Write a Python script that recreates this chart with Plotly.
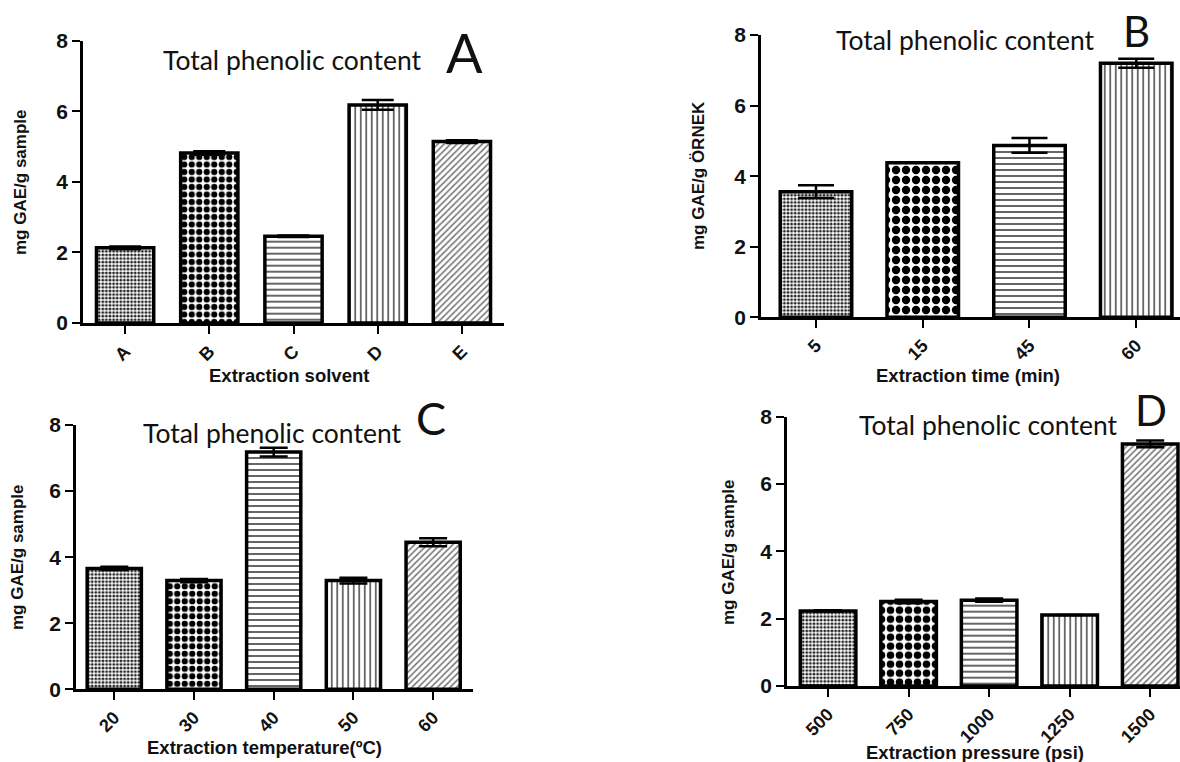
import plotly.graph_objects as go

# ---------------- data ----------------
solvent_cats = ["A", "B", "C", "D", "E"]
solvent_vals = [2.13, 4.82, 2.46, 6.18, 5.14]
solvent_err = [0.04, 0.05, 0.02, 0.14, 0.04]

time_cats = ["5", "15", "45", "60"]
time_vals = [3.56, 4.38, 4.87, 7.20]
time_err = [0.18, 0.0, 0.21, 0.13]

temp_cats = ["20", "30", "40", "50", "60"]
temp_vals = [3.66, 3.29, 7.18, 3.29, 4.45]
temp_err = [0.05, 0.05, 0.13, 0.09, 0.12]

press_cats = ["500", "750", "1000", "1250", "1500"]
press_vals = [2.23, 2.51, 2.55, 2.11, 7.19]
press_err = [0.02, 0.05, 0.05, 0.0, 0.10]

panel_title = "Total phenolic content"
panel_letters = ["A", "B", "C", "D"]
x_titles = ["Extraction solvent", "Extraction time (min)",
            "Extraction temperature(ºC)", "Extraction pressure (psi)"]
y_titles = ["mg GAE/g sample", "mg GAE/g ÖRNEK", "mg GAE/g sample", "mg GAE/g sample"]

# ---------------- styling ----------------
W, H = 1180, 762
TXT = "#111111"
BOLD = dict(family="Liberation Sans, Arial, sans-serif", color=TXT, weight="bold")
TITLEF = dict(family="Lato, Open Sans, sans-serif", color=TXT)

# pattern styles: fine dots, checker, horizontal, vertical, diagonal
pat_shape = {"dots": ".", "check": ".", "h": "-", "v": "|", "d": "/"}


def pattern(kinds, check_size):
    shapes, sizes, sol, fg = [], [], [], []
    for k in kinds:
        shapes.append(pat_shape[k])
        if k == "dots":
            sizes.append(3.6); sol.append(0.5); fg.append("#222222")
        elif k == "check":
            sizes.append(check_size); sol.append(0.55); fg.append("#000000")
        elif k == "h":
            sizes.append(6); sol.append(0.3); fg.append("#555555")
        elif k == "v":
            sizes.append(5.5); sol.append(0.3); fg.append("#555555")
        else:
            sizes.append(4.5); sol.append(0.35); fg.append("#777777")
    return dict(shape=shapes, size=sizes, solidity=sol, fgcolor=fg,
                bgcolor="white", fillmode="replace")


panels = [
    # cats, vals, errs, kinds, xdomain(px), ydomain(px top,bottom), xrange, barwidth, errwidth, checksize
    (solvent_cats, solvent_vals, solvent_err, ["dots", "check", "h", "v", "d"],
     (83, 504), (40.7, 323), [-0.5, 4.5], 0.68, 16, 7.5),
    (time_cats, time_vals, time_err, ["dots", "check", "h", "v"],
     (761, 1180), (35, 317.3), [-0.515, 3.41], 0.67, 18, 10),
    (temp_cats, temp_vals, temp_err, ["dots", "check", "h", "v", "d"],
     (76, 473), (425, 689.3), [-0.48, 4.5], 0.68, 14, 7.5),
    (press_cats, press_vals, press_err, ["dots", "check", "h", "v", "d"],
     (787, 1180), (416.7, 686), [-0.51, 4.37], 0.69, 14, 9),
]

fig = go.Figure()
layout = {}
for i, (cats, vals, errs, kinds, xd, yd, xr, bw, ew, cs) in enumerate(panels):
    sfx = "" if i == 0 else str(i + 1)
    fig.add_trace(go.Bar(
        x=cats, y=vals, width=bw,
        xaxis="x" + sfx, yaxis="y" + sfx,
        marker=dict(color="white", line=dict(color="black", width=3.5),
                    pattern=pattern(kinds, cs)),
        error_y=dict(type="data", array=errs, color="black", thickness=2.5, width=ew),
        showlegend=False, hoverinfo="x+y",
    ))
    layout["xaxis" + sfx] = dict(
        domain=[xd[0] / W, xd[1] / W], anchor="y" + sfx, type="category",
        range=xr, showline=True, linecolor="black", linewidth=2.5,
        ticks="outside", ticklen=8, tickwidth=2, tickcolor="black",
        tickangle=-45, tickfont=dict(size=18, **BOLD), automargin=False,
        showgrid=False, zeroline=False, fixedrange=True,
    )
    layout["yaxis" + sfx] = dict(
        domain=[1 - yd[1] / H, 1 - yd[0] / H], anchor="x" + sfx,
        range=[0, 8], dtick=2, tick0=0, showline=True, linecolor="black",
        linewidth=2.5, ticks="outside", ticklen=8, tickwidth=2, tickcolor="black",
        tickfont=dict(size=21, **BOLD), showgrid=False, zeroline=False,
        automargin=False, fixedrange=True,
    )

annotations = []
# (title center px), (letter center px, size), (ytitle center px), (xtitle center px)
ann_pos = [
    ((292, 60), (464, 52, 54), (20, 183), (289, 375)),
    ((965, 40), (1136, 31, 42), (698, 176), (968, 375)),
    ((272, 433), (431, 418, 45), (17, 558), (264, 747)),
    ((988, 425), (1151, 410, 42), (728, 553), (975, 752)),
]
for i, (tp, lp, yp, xp) in enumerate(ann_pos):
    annotations.append(dict(text=panel_title, x=tp[0] / W, y=1 - tp[1] / H,
                            xref="paper", yref="paper", showarrow=False,
                            xanchor="center", yanchor="middle",
                            font=dict(size=26.5, **TITLEF)))
    annotations.append(dict(text=panel_letters[i], x=lp[0] / W, y=1 - lp[1] / H,
                            xref="paper", yref="paper", showarrow=False,
                            xanchor="center", yanchor="middle",
                            font=dict(size=lp[2], **TITLEF)))
    annotations.append(dict(text=y_titles[i], x=yp[0] / W, y=1 - yp[1] / H,
                            xref="paper", yref="paper", showarrow=False,
                            xanchor="center", yanchor="middle", textangle=-90,
                            font=dict(size=17, **BOLD)))
    annotations.append(dict(text=x_titles[i], x=xp[0] / W, y=1 - xp[1] / H,
                            xref="paper", yref="paper", showarrow=False,
                            xanchor="center", yanchor="middle",
                            font=dict(size=18.5, **BOLD)))

fig.update_layout(
    width=W, height=H, margin=dict(l=0, r=0, t=0, b=0, autoexpand=False),
    paper_bgcolor="white", plot_bgcolor="white",
    annotations=annotations, bargap=0.3, **layout,
)

fig.write_html("out.html", config={"displayModeBar": False})
